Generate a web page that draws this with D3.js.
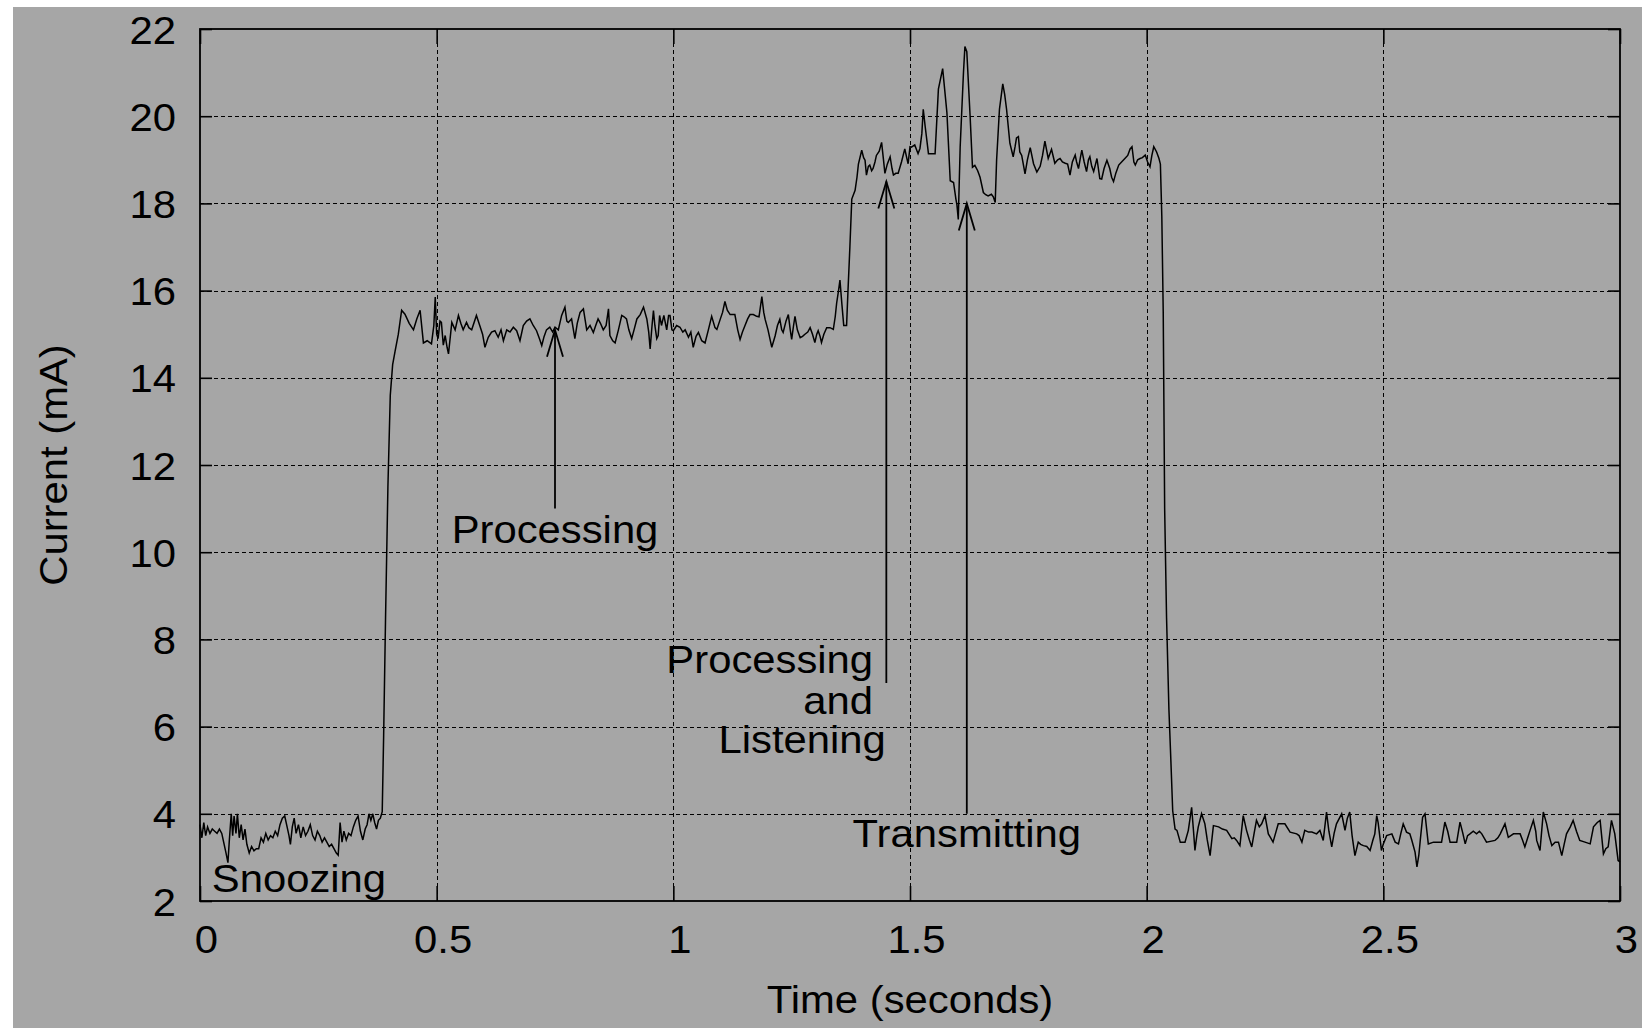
<!DOCTYPE html>
<html>
<head>
<meta charset="utf-8">
<script src="https://cdn.jsdelivr.net/npm/d3@7"></script>
<style>
    html, body { margin: 0; padding: 0; background: #fff; }
    svg { display: block; }
</style>
</head>
<body>
<svg id="chart" width="1642" height="1028"></svg>
<script>
// Current draw of a sensor node over one duty cycle (time in s, current in mA)
const xTicks = [0, 0.5, 1, 1.5, 2, 2.5, 3];
const yTicks = [2, 4, 6, 8, 10, 12, 14, 16, 18, 20, 22];

const snoozeBefore = [
    [0.000, 3.75], [0.004, 3.45], [0.008, 3.80], [0.012, 3.50], [0.016, 3.70], [0.021, 3.55],
    [0.026, 3.65], [0.031, 3.60], [0.036, 3.55], [0.041, 3.65], [0.046, 3.55], [0.051, 3.30],
    [0.055, 3.10], [0.059, 2.88], [0.062, 3.40], [0.066, 4.00], [0.069, 3.50], [0.072, 3.95],
    [0.076, 3.55], [0.079, 4.00], [0.083, 3.45], [0.087, 3.75], [0.091, 3.40], [0.095, 3.65],
    [0.099, 3.30], [0.104, 3.10], [0.109, 3.25], [0.114, 3.15], [0.119, 3.20], [0.124, 3.20],
    [0.129, 3.45], [0.134, 3.35], [0.139, 3.55], [0.144, 3.40], [0.149, 3.50], [0.154, 3.45],
    [0.159, 3.60], [0.164, 3.50], [0.169, 3.75], [0.174, 3.90], [0.179, 3.95], [0.184, 3.70],
    [0.188, 3.50], [0.191, 3.30], [0.195, 3.70], [0.199, 3.90], [0.203, 3.55], [0.208, 3.75],
    [0.213, 3.45], [0.218, 3.70], [0.223, 3.50], [0.228, 3.60], [0.233, 3.75], [0.238, 3.50],
    [0.243, 3.40], [0.248, 3.60], [0.253, 3.50], [0.258, 3.35], [0.263, 3.45], [0.268, 3.35],
    [0.273, 3.25], [0.278, 3.30], [0.283, 3.20], [0.288, 3.10], [0.292, 3.05], [0.296, 3.80],
    [0.300, 3.35], [0.304, 3.60], [0.309, 3.40], [0.314, 3.55], [0.319, 3.50], [0.324, 3.70],
    [0.329, 3.85], [0.334, 3.95], [0.339, 3.60], [0.344, 3.40], [0.349, 3.65], [0.353, 3.75],
    [0.357, 4.00], [0.361, 3.85], [0.365, 4.00], [0.369, 3.80], [0.373, 3.65], [0.377, 3.85],
    [0.381, 3.90], [0.385, 4.05]
];

const rampUp = [
    [0.388, 5.8], [0.392, 8.5], [0.397, 11.5], [0.402, 13.6], [0.407, 14.3], [0.412, 14.6],
    [0.419, 15.0], [0.426, 15.55]
];

const processing = [
    [0.433, 15.46], [0.442, 15.25], [0.451, 15.10], [0.458, 15.35], [0.465, 15.55], [0.472, 14.80],
    [0.480, 14.85], [0.489, 14.78], [0.494, 15.20], [0.497, 15.85], [0.500, 15.00], [0.503, 14.90],
    [0.507, 15.30], [0.510, 15.27], [0.514, 14.75], [0.518, 14.97], [0.522, 14.70], [0.525, 14.55],
    [0.532, 15.27], [0.539, 15.10], [0.546, 15.43], [0.551, 15.25], [0.556, 15.10], [0.563, 15.27],
    [0.568, 15.15], [0.574, 15.10], [0.584, 15.43], [0.591, 15.20], [0.597, 15.00], [0.602, 14.70],
    [0.609, 14.93], [0.616, 15.05], [0.623, 15.08], [0.630, 14.93], [0.636, 15.10], [0.641, 14.85],
    [0.648, 15.10], [0.655, 15.05], [0.662, 15.16], [0.669, 15.08], [0.676, 14.85], [0.683, 15.20],
    [0.690, 15.30], [0.697, 15.35], [0.704, 15.20], [0.711, 15.08], [0.717, 14.90], [0.722, 14.74],
    [0.727, 14.95], [0.732, 15.10], [0.739, 15.16], [0.745, 15.05], [0.750, 15.16], [0.757, 15.10],
    [0.764, 15.43], [0.771, 15.62], [0.775, 15.30], [0.778, 15.27], [0.785, 15.35], [0.792, 14.90],
    [0.797, 15.25], [0.803, 15.50], [0.810, 15.58], [0.817, 15.10], [0.824, 15.20], [0.831, 15.04],
    [0.836, 15.20], [0.841, 15.35], [0.846, 15.25], [0.852, 15.10], [0.858, 15.20], [0.863, 15.58],
    [0.866, 14.97], [0.872, 14.85], [0.877, 14.80], [0.884, 15.10], [0.891, 15.43], [0.896, 15.40],
    [0.901, 15.35], [0.906, 15.10], [0.912, 14.90], [0.917, 15.10], [0.923, 15.35], [0.930, 15.45],
    [0.937, 15.62], [0.944, 15.35], [0.948, 15.05], [0.951, 14.66], [0.955, 15.20], [0.958, 15.54],
    [0.961, 15.20], [0.965, 14.90], [0.968, 14.97], [0.971, 15.43], [0.975, 15.20], [0.980, 15.43],
    [0.986, 15.10], [0.990, 15.43], [0.993, 15.43], [0.997, 15.10], [1.000, 15.08], [1.007, 15.20],
    [1.014, 15.16], [1.020, 15.05], [1.025, 15.10], [1.032, 14.93], [1.037, 15.05], [1.042, 14.70],
    [1.048, 14.95], [1.053, 15.04], [1.060, 14.85], [1.067, 14.80], [1.074, 15.10], [1.081, 15.41],
    [1.088, 15.15], [1.092, 15.11], [1.099, 15.34], [1.104, 15.50], [1.109, 15.75], [1.114, 15.55],
    [1.120, 15.45], [1.125, 15.45], [1.130, 15.45], [1.136, 15.10], [1.141, 14.88], [1.146, 15.05],
    [1.151, 15.19], [1.157, 15.35], [1.162, 15.45], [1.169, 15.45], [1.176, 15.41], [1.181, 15.40],
    [1.187, 15.86], [1.191, 15.50], [1.194, 15.34], [1.200, 15.10], [1.204, 14.90], [1.208, 14.70],
    [1.215, 14.96], [1.220, 15.20], [1.225, 15.34], [1.229, 15.10], [1.232, 15.04], [1.238, 15.30],
    [1.243, 15.45], [1.247, 15.10], [1.250, 14.88], [1.254, 15.20], [1.257, 15.41], [1.262, 15.10],
    [1.268, 14.92], [1.273, 14.95], [1.278, 15.00], [1.284, 15.05], [1.289, 15.15], [1.294, 15.00],
    [1.299, 14.81], [1.303, 15.00], [1.306, 15.08], [1.310, 14.95], [1.313, 14.81], [1.318, 15.00],
    [1.324, 15.15], [1.331, 15.15], [1.338, 15.11], [1.342, 15.40], [1.345, 15.71], [1.349, 16.00],
    [1.352, 16.24], [1.356, 15.70], [1.360, 15.20], [1.366, 15.20]
];

const listening = [
    [1.369, 16.0], [1.373, 17.0], [1.377, 18.10], [1.384, 18.30], [1.388, 18.60], [1.391, 18.90],
    [1.398, 19.22], [1.402, 19.05], [1.405, 18.99], [1.408, 18.65], [1.412, 18.85], [1.415, 18.88],
    [1.419, 18.75], [1.422, 18.80], [1.426, 18.95], [1.429, 19.10], [1.435, 19.20], [1.440, 19.40],
    [1.444, 19.00], [1.447, 18.69], [1.452, 18.90], [1.458, 19.07], [1.462, 18.80], [1.465, 18.65],
    [1.470, 18.69], [1.475, 18.69], [1.482, 18.95], [1.489, 19.25], [1.493, 19.05], [1.496, 18.91],
    [1.500, 19.30], [1.503, 19.29], [1.510, 19.34], [1.517, 19.14], [1.521, 19.26], [1.525, 19.60],
    [1.528, 20.16], [1.532, 19.77], [1.539, 19.14], [1.546, 19.14], [1.553, 19.14], [1.560, 20.62],
    [1.569, 21.09], [1.578, 20.08], [1.585, 18.52], [1.592, 18.48], [1.597, 18.10], [1.599, 17.98],
    [1.602, 17.63]
];

const transmitting = [
    [1.606, 19.30], [1.613, 21.01], [1.616, 21.60], [1.620, 21.48], [1.627, 20.00], [1.632, 18.83],
    [1.637, 18.87], [1.643, 18.75], [1.648, 18.60], [1.655, 18.25], [1.660, 18.20], [1.665, 18.17],
    [1.672, 18.21], [1.676, 18.15], [1.680, 18.02], [1.683, 19.00], [1.689, 20.16], [1.696, 20.74],
    [1.700, 20.50], [1.704, 20.16], [1.711, 19.38], [1.718, 19.07], [1.722, 19.30], [1.725, 19.50],
    [1.729, 19.53], [1.732, 19.18], [1.736, 19.10], [1.743, 18.68], [1.748, 19.00], [1.754, 19.28],
    [1.761, 18.91], [1.768, 18.72], [1.775, 18.85], [1.780, 19.10], [1.785, 19.43], [1.792, 19.03],
    [1.796, 19.15], [1.799, 19.24], [1.806, 18.92], [1.812, 19.00], [1.817, 19.03], [1.822, 18.95],
    [1.828, 18.92], [1.833, 18.90], [1.838, 18.65], [1.843, 18.95], [1.849, 19.11], [1.852, 18.95],
    [1.856, 18.80], [1.860, 19.05], [1.863, 19.22], [1.868, 18.95], [1.873, 18.73], [1.877, 19.00],
    [1.880, 19.07], [1.884, 18.85], [1.888, 18.73], [1.892, 18.90], [1.895, 19.03], [1.901, 18.57],
    [1.905, 18.56], [1.910, 18.80], [1.916, 18.99], [1.922, 18.80], [1.926, 18.60], [1.930, 18.50],
    [1.935, 18.70], [1.941, 18.88], [1.947, 18.95], [1.954, 19.03], [1.960, 19.10], [1.965, 19.25],
    [1.969, 19.30], [1.973, 18.95], [1.976, 18.88], [1.981, 19.00], [1.986, 19.03], [1.991, 19.05],
    [1.997, 19.11], [2.002, 18.95], [2.007, 18.84], [2.011, 19.10], [2.015, 19.30], [2.021, 19.18],
    [2.026, 19.03], [2.029, 18.90]
];

const rampDown = [
    [2.032, 17.70], [2.035, 15.50], [2.038, 11.00], [2.042, 8.50], [2.047, 6.40], [2.051, 5.26],
    [2.055, 4.07], [2.060, 3.65]
];

const snoozeAfter = [
    [2.064, 3.62], [2.071, 3.35], [2.081, 3.35], [2.088, 3.62], [2.095, 4.15], [2.099, 3.60],
    [2.102, 3.16], [2.106, 3.50], [2.109, 3.70], [2.116, 4.00], [2.123, 3.77], [2.128, 3.40],
    [2.134, 3.04], [2.141, 3.73], [2.152, 3.70], [2.160, 3.65], [2.169, 3.62], [2.180, 3.43],
    [2.185, 3.45], [2.190, 3.39], [2.197, 3.27], [2.204, 3.96], [2.211, 3.62], [2.217, 3.40],
    [2.222, 3.24], [2.227, 3.55], [2.232, 3.85], [2.238, 3.70], [2.243, 3.77], [2.250, 3.96],
    [2.257, 3.54], [2.262, 3.45], [2.267, 3.35], [2.278, 3.77], [2.292, 3.77], [2.303, 3.58],
    [2.317, 3.54], [2.322, 3.50], [2.328, 3.35], [2.334, 3.62], [2.342, 3.58], [2.349, 3.58],
    [2.359, 3.54], [2.366, 3.62], [2.373, 3.39], [2.380, 4.04], [2.385, 3.60], [2.391, 3.24],
    [2.396, 3.55], [2.401, 3.77], [2.412, 4.00], [2.419, 3.62], [2.424, 3.90], [2.429, 4.04],
    [2.434, 3.50], [2.440, 3.04], [2.447, 3.35], [2.452, 3.30], [2.458, 3.27], [2.465, 3.25],
    [2.472, 3.16], [2.478, 3.40], [2.482, 3.54], [2.486, 3.96], [2.489, 3.80], [2.496, 3.16],
    [2.500, 3.31], [2.507, 3.50], [2.518, 3.54], [2.525, 3.35], [2.532, 3.31], [2.537, 3.55],
    [2.542, 3.77], [2.549, 3.58], [2.556, 3.54], [2.560, 3.40], [2.567, 3.12], [2.571, 2.78],
    [2.575, 3.05], [2.578, 3.39], [2.583, 3.92], [2.588, 4.00], [2.592, 3.60], [2.595, 3.31],
    [2.606, 3.35], [2.623, 3.35], [2.630, 3.81], [2.636, 3.60], [2.641, 3.35], [2.655, 3.35],
    [2.662, 3.81], [2.668, 3.55], [2.673, 3.31], [2.678, 3.50], [2.683, 3.54], [2.690, 3.60],
    [2.697, 3.54], [2.703, 3.60], [2.708, 3.54], [2.718, 3.35], [2.736, 3.39], [2.742, 3.45],
    [2.747, 3.54], [2.757, 3.77], [2.764, 3.46], [2.775, 3.54], [2.789, 3.54], [2.794, 3.40],
    [2.799, 3.24], [2.805, 3.45], [2.810, 3.62], [2.817, 3.85], [2.822, 3.60], [2.824, 3.39],
    [2.831, 3.16], [2.838, 4.04], [2.845, 3.77], [2.850, 3.50], [2.856, 3.27], [2.863, 3.35],
    [2.870, 3.35], [2.877, 3.04], [2.882, 3.30], [2.887, 3.54], [2.895, 3.70], [2.901, 3.85],
    [2.908, 3.60], [2.915, 3.39], [2.926, 3.35], [2.937, 3.31], [2.944, 3.70], [2.952, 3.80],
    [2.958, 3.85], [2.965, 3.08], [2.970, 3.20], [2.975, 3.24], [2.982, 3.85], [2.989, 3.54],
    [2.996, 2.93], [3.000, 2.90]
];

// annotation arrows: time, tail current, head current
const arrows = [
    { t: 0.750, from: 11.0, to: 15.1 },
    { t: 1.450, from: 7.0, to: 18.5 },
    { t: 1.620, from: 4.0, to: 18.0 }
];

// labels anchored in data units (baseline)
const notes = [
    { text: "Snoozing", t: 0.025, v: 2.21, anchor: "start" },
    { text: "Processing", t: 0.750, v: 10.2, anchor: "middle" },
    { text: "Processing", t: 1.422, v: 7.22, anchor: "end" },
    { text: "and", t: 1.422, v: 6.30, anchor: "end" },
    { text: "Listening", t: 1.449, v: 5.39, anchor: "end" },
    { text: "Transmitting", t: 1.620, v: 3.24, anchor: "middle" }
];

(function () {
    const svg = d3.select("#chart");
    const W = 1642, H = 1028;
    const plot = { left: 200, top: 29, right: 1620, bottom: 901 };
    const FONT = '"Liberation Sans", Arial, sans-serif';
    const FS = 38;
    const STRETCH = 1.1; // text in the source is a bit wide
    const INK = "#000";

    svg.append("rect")
        .attr("x", 13).attr("y", 7)
        .attr("width", W - 13).attr("height", H - 7)
        .attr("fill", "#a6a6a6");

    const x = d3.scaleLinear().domain([0, 3]).range([plot.left, plot.right]);
    const y = d3.scaleLinear().domain([2, 22]).range([plot.bottom, plot.top]);
    const snap = v => Math.round(v) + 0.5; // keep 1px dashes sharp

    // === Grid ===
    const grid = svg.append("g")
        .attr("stroke", INK)
        .attr("stroke-width", 1)
        .attr("stroke-dasharray", "4,3");

    grid.selectAll("line.v")
        .data(xTicks.slice(1, -1))
        .join("line")
        .attr("class", "v")
        .attr("x1", d => snap(x(d))).attr("x2", d => snap(x(d)))
        .attr("y1", plot.top).attr("y2", plot.bottom);

    grid.selectAll("line.h")
        .data(yTicks.slice(1, -1))
        .join("line")
        .attr("class", "h")
        .attr("x1", plot.left).attr("x2", plot.right)
        .attr("y1", d => snap(y(d))).attr("y2", d => snap(y(d)));

    // === Axes (ticks point inward, mirrored on top/right) ===
    function styleAxis(sel) {
        sel.select(".domain").remove();
        sel.selectAll(".tick line").attr("stroke", INK).attr("stroke-width", 1.6);
        sel.selectAll(".tick text")
            .attr("fill", INK)
            .style("font-family", FONT)
            .style("font-size", FS + "px");
    }

    const xAxis = svg.append("g")
        .attr("transform", `translate(0,${plot.bottom})`)
        .call(d3.axisBottom(x).tickValues(xTicks).tickSize(-15).tickFormat(d3.format("")));
    styleAxis(xAxis);
    xAxis.selectAll(".tick text")
        .attr("y", 0).attr("dy", 0)
        .attr("transform", `translate(6,52) scale(${STRETCH},1)`);

    const yAxis = svg.append("g")
        .attr("transform", `translate(${plot.left},0)`)
        .call(d3.axisLeft(y).tickValues(yTicks).tickSize(-12));
    styleAxis(yAxis);
    yAxis.selectAll(".tick text")
        .attr("x", 0).attr("dy", 0)
        .attr("transform", `translate(-24,14) scale(${STRETCH},1)`);

    const topAxis = svg.append("g")
        .attr("transform", `translate(0,${plot.top})`)
        .call(d3.axisTop(x).tickValues(xTicks).tickSize(-15).tickFormat(""));
    styleAxis(topAxis);

    const rightAxis = svg.append("g")
        .attr("transform", `translate(${plot.right},0)`)
        .call(d3.axisRight(y).tickValues(yTicks).tickSize(-12).tickFormat(""));
    styleAxis(rightAxis);

    svg.append("rect")
        .attr("x", plot.left).attr("y", plot.top)
        .attr("width", plot.right - plot.left)
        .attr("height", plot.bottom - plot.top)
        .attr("fill", "none")
        .attr("stroke", INK)
        .attr("stroke-width", 1.8);

    // === Trace ===
    const trace = [].concat(snoozeBefore, rampUp, processing, listening, transmitting, rampDown, snoozeAfter);

    svg.append("path")
        .datum(trace)
        .attr("fill", "none")
        .attr("stroke", "#000")
        .attr("stroke-width", 1.5)
        .attr("d", d3.line().x(d => x(d[0])).y(d => y(d[1])));

    // === Arrows ===
    const arrowG = svg.append("g")
        .attr("stroke", "#000")
        .attr("stroke-width", 1.8)
        .attr("fill", "none");

    arrowG.selectAll("line")
        .data(arrows)
        .join("line")
        .attr("x1", d => x(d.t)).attr("x2", d => x(d.t))
        .attr("y1", d => y(d.from)).attr("y2", d => y(d.to));

    arrowG.selectAll("path")
        .data(arrows)
        .join("path")
        .attr("d", d => {
            const px = x(d.t), py = y(d.to);
            return `M${px - 8},${py + 27}L${px},${py}L${px + 8},${py + 27}`;
        });

    // === Labels ===
    svg.append("g")
        .selectAll("text")
        .data(notes)
        .join("text")
        .attr("transform", d => `translate(${x(d.t)},${y(d.v)}) scale(${STRETCH},1)`)
        .attr("text-anchor", d => d.anchor)
        .attr("fill", INK)
        .style("font-family", FONT)
        .style("font-size", FS + "px")
        .text(d => d.text);

    svg.append("text")
        .attr("transform", `translate(${(plot.left + plot.right) / 2},1013) scale(${STRETCH},1)`)
        .attr("text-anchor", "middle")
        .attr("fill", INK)
        .style("font-family", FONT)
        .style("font-size", FS + "px")
        .text("Time (seconds)");

    svg.append("text")
        .attr("transform", `translate(67,${(plot.top + plot.bottom) / 2}) rotate(-90) scale(${STRETCH},1)`)
        .attr("text-anchor", "middle")
        .attr("fill", INK)
        .style("font-family", FONT)
        .style("font-size", FS + "px")
        .text("Current (mA)");
})();
</script>
</body>
</html>
